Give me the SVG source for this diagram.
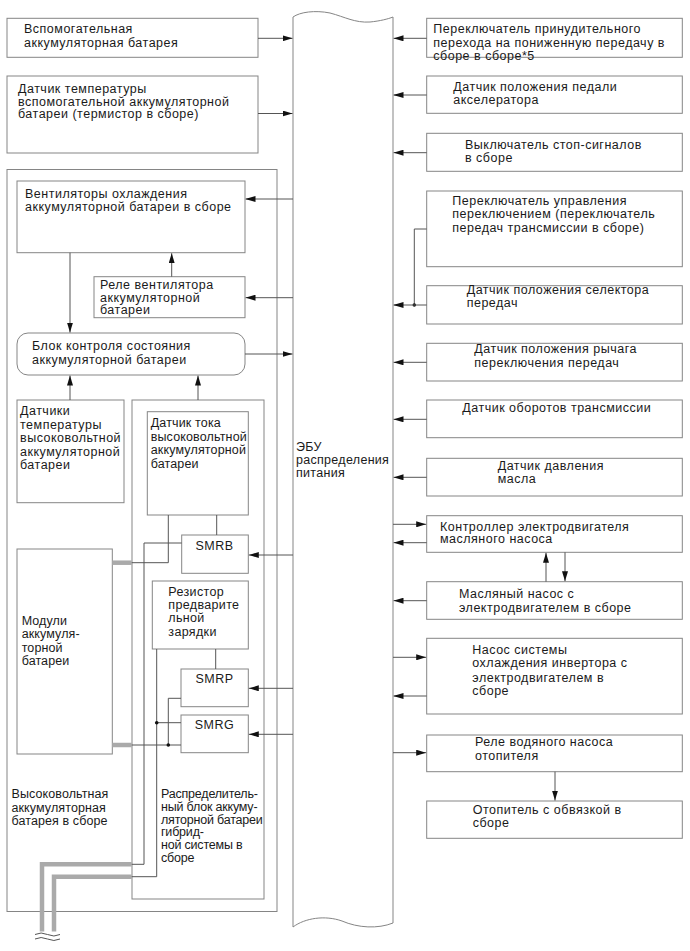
<svg xmlns="http://www.w3.org/2000/svg" width="690" height="951" viewBox="0 0 690 951">
<defs>
<marker id="ah" markerUnits="userSpaceOnUse" markerWidth="10" markerHeight="6" refX="10" refY="3" orient="auto">
<path d="M0,0 L10,3 L0,6 z" fill="#111"/>
</marker>
<style>
.b{fill:#fff;stroke:#858585;stroke-width:1}
.o{fill:none;stroke:#858585;stroke-width:1}
.l{fill:none;stroke:#555;stroke-width:1}
.a{fill:none;stroke:#555;stroke-width:1;marker-end:url(#ah)}
.c{fill:none;stroke:#aaa;stroke-width:4.5}
.d{fill:#111}
text{font-family:"Liberation Sans",Arial,sans-serif;font-size:12.5px;fill:#1a1a1a;letter-spacing:0.5px}
.n1{letter-spacing:-0.2px}
.n2{letter-spacing:0.15px}
.n3{letter-spacing:0.35px}
.n4{letter-spacing:0.1px}
.n5{letter-spacing:0.3px}
</style>
</defs>
<rect width="690" height="951" fill="#fff"/>

<g id="ecu">
<path class="o" d="M293,17 C300,12 315,10 330,13 C345,17 355,23 370,22 C380,21 388,19 393,17 M293,17 V927 M393,17 V923 M293,927 C305,918 325,915 342,921 C358,928 378,929 393,923"/>
<text class="n5" x="296" y="451">ЭБУ</text>
<text class="n5" x="296" y="464">распределения</text>
<text class="n5" x="296" y="477">питания</text>
</g>

<g id="aux-battery">
<rect class="b" x="7" y="18.3" width="251" height="39"/>
<text x="24" y="33.3">Вспомогательная</text>
<text x="24" y="47.3">аккумуляторная батарея</text>
</g>

<g id="aux-temp">
<rect class="b" x="7" y="76" width="251" height="77"/>
<text x="18" y="93.3">Датчик температуры</text>
<text x="18" y="105.8">вспомогательной аккумуляторной</text>
<text x="18" y="118.3">батареи (термистор в сборе)</text>
</g>

<g id="hv-battery">
<rect class="o" x="7" y="169.5" width="270" height="742"/>
<text class="n4" x="11.5" y="798.3">Высоковольтная</text>
<text class="n4" x="11.5" y="811.5">аккумуляторная</text>
<text class="n4" x="11.5" y="824.5">батарея в сборе</text>
</g>

<g id="fans">
<rect class="b" x="17" y="181" width="228" height="71.7"/>
<text x="25" y="198.3">Вентиляторы охлаждения</text>
<text x="25" y="211">аккумуляторной батареи в сборе</text>
</g>

<g id="fan-relay">
<rect class="b" x="94" y="276.7" width="151" height="41"/>
<text x="100" y="289">Реле вентилятора</text>
<text x="100" y="301.7">аккумуляторной</text>
<text x="100" y="314.3">батареи</text>
</g>

<g id="bms">
<rect class="b" x="17" y="333" width="228" height="42" rx="11" ry="11"/>
<text x="32" y="350">Блок контроля состояния</text>
<text x="32" y="364.3">аккумуляторной батареи</text>
</g>

<g id="hv-temp">
<rect class="b" x="17" y="400" width="107" height="102.7"/>
<text x="20" y="415">Датчики</text>
<text x="20" y="428.5">температуры</text>
<text x="20" y="442">высоковольтной</text>
<text x="20" y="455.5">аккумуляторной</text>
<text x="20" y="469">батареи</text>
</g>

<g id="junction-block">
<rect class="o" x="132" y="400" width="132" height="499"/>
<text class="n1" x="161" y="798.3">Распределитель-</text>
<text class="n1" x="161" y="811">ный блок аккуму-</text>
<text class="n1" x="161" y="823.7">ляторной батареи</text>
<text class="n1" x="161" y="836.4">гибрид-</text>
<text class="n1" x="161" y="849.1">ной системы в</text>
<text class="n1" x="161" y="861.8">сборе</text>
</g>

<g id="current-sensor">
<rect class="b" x="147.3" y="411.7" width="101" height="103.3"/>
<text class="n2" x="150.7" y="427">Датчик тока</text>
<text class="n2" x="150.7" y="440.5">высоковольтной</text>
<text class="n2" x="150.7" y="454">аккумуляторной</text>
<text class="n2" x="150.7" y="467.5">батареи</text>
</g>

<g id="smrb">
<rect class="b" x="181.7" y="535" width="66.6" height="38.3"/>
<text x="214.5" y="549.5" text-anchor="middle">SMRB</text>
</g>

<g id="modules">
<rect class="b" x="17" y="549" width="95.3" height="205"/>
<text class="n4" x="21.7" y="625">Модули</text>
<text class="n4" x="21.7" y="638.3">аккумуля-</text>
<text class="n4" x="21.7" y="651.7">торной</text>
<text class="n4" x="21.7" y="665">батареи</text>
</g>

<g id="precharge">
<rect class="b" x="152.3" y="581" width="96" height="68"/>
<text class="n3" x="168.3" y="595.7">Резистор</text>
<text class="n3" x="168.3" y="609">предварите</text>
<text class="n3" x="168.3" y="622.3">льной</text>
<text class="n3" x="168.3" y="635.7">зарядки</text>
</g>

<g id="smrp">
<rect class="b" x="181" y="669" width="67.3" height="37.7"/>
<text x="214.5" y="683.3" text-anchor="middle">SMRP</text>
</g>

<g id="smrg">
<rect class="b" x="181" y="715" width="67.3" height="37.7"/>
<text x="214.5" y="729.3" text-anchor="middle">SMRG</text>
</g>

<g id="downshift-switch">
<rect class="b" x="426.7" y="18.3" width="255.6" height="39"/>
<text x="433.3" y="33.3">Переключатель принудительного</text>
<text x="433.3" y="46.7">перехода на пониженную передачу в</text>
<text x="433.3" y="60">сборе в сборе*5</text>
</g>

<g id="accel-sensor">
<rect class="b" x="426.7" y="76" width="255.6" height="37.3"/>
<text x="453.3" y="90.7">Датчик положения педали</text>
<text x="453.3" y="104">акселератора</text>
</g>

<g id="stop-switch">
<rect class="b" x="426.7" y="133.3" width="255.6" height="38"/>
<text x="465" y="149">Выключатель стоп-сигналов</text>
<text x="465" y="162.3">в сборе</text>
</g>

<g id="shift-switch">
<rect class="b" x="426.7" y="191" width="255.6" height="75.7"/>
<text x="452.3" y="205">Переключатель управления</text>
<text x="452.3" y="218.3">переключением (переключатель</text>
<text x="452.3" y="231.7">передач трансмиссии в сборе)</text>
</g>

<g id="selector-sensor">
<rect class="b" x="426.7" y="285.7" width="255.6" height="38.3"/>
<text x="466.7" y="294">Датчик положения селектора</text>
<text x="466.7" y="306.7">передач</text>
</g>

<g id="lever-sensor">
<rect class="b" x="426.7" y="343.3" width="255.6" height="37.7"/>
<text x="474.3" y="353.3">Датчик положения рычага</text>
<text x="474.3" y="366.7">переключения передач</text>
</g>

<g id="speed-sensor">
<rect class="b" x="426.7" y="400" width="255.6" height="37.7"/>
<text x="462.3" y="412.3">Датчик оборотов трансмиссии</text>
</g>

<g id="oil-pressure">
<rect class="b" x="426.7" y="458.3" width="255.6" height="37.7"/>
<text x="497.7" y="470">Датчик давления</text>
<text x="497.7" y="483.3">масла</text>
</g>

<g id="oil-pump-ctrl">
<rect class="b" x="426.7" y="515.7" width="255.6" height="36.6"/>
<text x="440" y="530.7">Контроллер электродвигателя</text>
<text x="440" y="543.3">масляного насоса</text>
</g>

<g id="oil-pump">
<rect class="b" x="426.7" y="581.7" width="255.6" height="37.6"/>
<text x="459" y="598.3">Масляный насос с</text>
<text x="459" y="612.3">электродвигателем в сборе</text>
</g>

<g id="inverter-pump">
<rect class="b" x="426.7" y="638.3" width="255.6" height="75.7"/>
<text x="472.3" y="654">Насос системы</text>
<text x="472.3" y="667.3">охлаждения инвертора с</text>
<text x="472.3" y="681.7">электродвигателем в</text>
<text x="472.3" y="695">сборе</text>
</g>

<g id="heater-relay">
<rect class="b" x="426.7" y="735" width="255.6" height="36.7"/>
<text x="475" y="745.7">Реле водяного насоса</text>
<text x="475" y="760">отопителя</text>
</g>

<g id="heater">
<rect class="b" x="426.7" y="801" width="255.6" height="37.3"/>
<text x="472.7" y="814">Отопитель с обвязкой в</text>
<text x="472.7" y="827.3">сборе</text>
</g>

<g id="connectors">
<path class="a" d="M258,38.3 H292.5"/>
<path class="a" d="M258,113.5 H292.5"/>
<path class="a" d="M245,354 H292.5"/>
<path class="a" d="M293,199 H245.5"/>
<path class="a" d="M293,297.7 H245.5"/>
<path class="a" d="M293,555 H248.8"/>
<path class="a" d="M293,688.3 H248.8"/>
<path class="a" d="M293,734.3 H248.8"/>
<path class="a" d="M171.7,276.7 V253.2"/>
<path class="a" d="M70,252.7 V332.5"/>
<path class="a" d="M70,400 V375.5"/>
<path class="a" d="M198,400 V375.5"/>

<path class="a" d="M426.7,38.3 H393.5"/>
<path class="a" d="M426.7,95 H393.5"/>
<path class="a" d="M426.7,152.7 H393.5"/>
<path class="l" d="M426.7,229 H414.3 V305"/>
<circle class="d" cx="414.3" cy="305" r="1.8"/>
<path class="a" d="M426.7,305 H393.5"/>
<path class="a" d="M426.7,362.3 H393.5"/>
<path class="a" d="M426.7,419.3 H393.5"/>
<path class="a" d="M426.7,477.3 H393.5"/>
<path class="a" d="M393,524.3 H426.2"/>
<path class="a" d="M426.7,542.7 H393.5"/>
<path class="a" d="M546,581.7 V552.8"/>
<path class="a" d="M565,552.3 V581.2"/>
<path class="a" d="M426.7,600.7 H393.5"/>
<path class="a" d="M393,657.3 H426.2"/>
<path class="a" d="M426.7,696 H393.5"/>
<path class="a" d="M393,752.7 H426.2"/>
<path class="a" d="M555,771.7 V800.5"/>

<path class="c" d="M112.3,562.7 H131.7"/>
<path class="c" d="M112.3,745 H131.7"/>
<path class="c" d="M131.7,864.3 H42 V931.5"/>
<path class="c" d="M131.7,876.7 H54 V931.5"/>
<path class="l" d="M216.7,515 V535"/>
<path class="l" d="M168.3,515 V562.7 H131.7"/>
<path class="l" d="M181.7,543 H144 V864.3 H131.7"/>
<path class="l" d="M215.7,649 V669"/>
<path class="l" d="M156.7,649 V876.7 H131.7"/>
<path class="l" d="M156.7,722.7 H181"/>
<circle class="d" cx="156.7" cy="722.7" r="1.8"/>
<path class="l" d="M181,698.3 H168.3 V745"/>
<path class="l" d="M131.7,745 H181"/>
<circle class="d" cx="168.3" cy="745" r="1.8"/>
<path class="l" d="M35,934.5 q6,-3 12.5,0 t12.5,0 M35,939 q6,-3 12.5,0 t12.5,0"/>
</g>
</svg>
